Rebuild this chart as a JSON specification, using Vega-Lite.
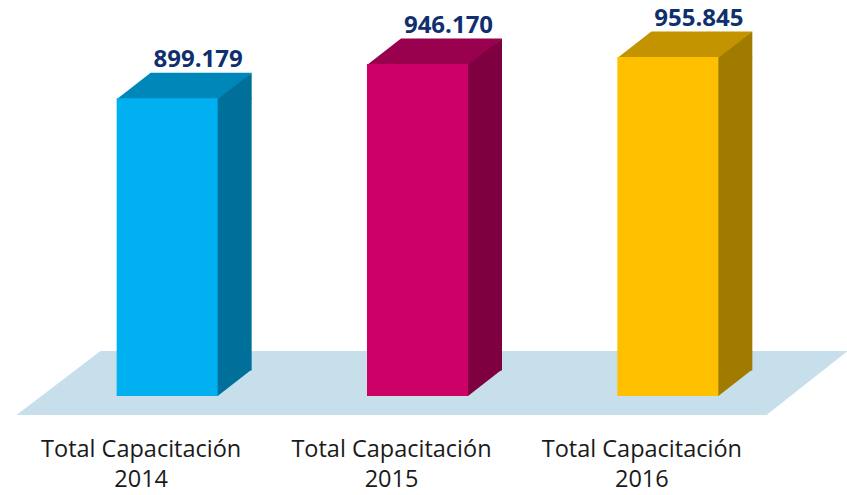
{
  "$schema": "https://vega.github.io/schema/vega-lite/v6.json",
  "width": 751,
  "height": 396,
  "autosize": {"type": "none"},
  "padding": {"left": 42, "top": 0, "right": 54, "bottom": 99},
  "background": "white",
  "config": {"view": {"stroke": null}},
  "data": {"values": [
    {"year": "2014", "value": 899179, "label": "899.179"},
    {"year": "2015", "value": 946170, "label": "946.170"},
    {"year": "2016", "value": 955845, "label": "955.845"}
  ]},
  "encoding": {
    "x": {
      "field": "year", "type": "nominal",
      "scale": {"domain": ["2014", "2015", "2016"], "paddingInner": 0, "paddingOuter": 0},
      "axis": {
        "title": null, "domain": false, "ticks": false, "labelAngle": 0,
        "labelExpr": "['Total Capacitación', datum.label]",
        "labelFont": "Open Sans", "labelFontSize": 23.5, "labelColor": "#1a1a1a",
        "labelLineHeight": 30, "labelBaseline": "alphabetic", "labelPadding": 60,
        "labelOffset": -26, "labelLimit": 0
      }
    },
    "y": {
      "field": "value", "type": "quantitative",
      "scale": {"domain": [490000, 1034171], "zero": false, "nice": false},
      "axis": null
    }
  },
  "layer": [
    {
      "transform": [{"filter": "datum.year == '2015'"}],
      "mark": {"type": "point", "filled": true, "opacity": 1, "size": 4, "strokeWidth": 0, "fill": "#c6dfea",
        "shape": "M-317,-45L430,-45L349,19L-401,19Z"},
      "encoding": {"y": {"datum": 490000, "type": "quantitative"}}
    },
    {
      "mark": {"type": "bar", "width": 38, "xOffset": 65.5, "y2Offset": -25.5},
      "encoding": {
        "y2": {"datum": 490000},
        "color": {"field": "year", "type": "nominal", "legend": null,
          "scale": {"domain": ["2014", "2015", "2016"], "range": ["#00709b", "#7f0040", "#a17a00"]}}
      }
    },
    {
      "mark": {"type": "point", "filled": true, "opacity": 1, "size": 4, "strokeWidth": 0,
        "shape": "M46,1L84.5,-25.5L84.5,1Z"},
      "encoding": {
        "color": {"field": "year", "type": "nominal", "legend": null,
          "scale": {"domain": ["2014", "2015", "2016"], "range": ["#00709b", "#7f0040", "#a17a00"]}}
      }
    },
    {
      "mark": {"type": "point", "filled": true, "opacity": 1, "size": 4, "strokeWidth": 0,
        "shape": "M46,-26.5L84.5,-26.5L50.5,0L46,0Z"},
      "encoding": {
        "y": {"datum": 490000, "type": "quantitative"},
        "color": {"field": "year", "type": "nominal", "legend": null,
          "scale": {"domain": ["2014", "2015", "2016"], "range": ["#00709b", "#7f0040", "#a17a00"]}}
      }
    },
    {
      "mark": {"type": "point", "filled": true, "opacity": 1, "size": 4, "strokeWidth": 0,
        "shape": "M-50.5,1L50.5,1L84.5,-25.5L-16.5,-25.5Z"},
      "encoding": {
        "color": {"field": "year", "type": "nominal", "legend": null,
          "scale": {"domain": ["2014", "2015", "2016"], "range": ["#0087b9", "#99004d", "#c49400"]}}
      }
    },
    {
      "mark": {"type": "bar", "width": 101},
      "encoding": {
        "y2": {"datum": 490000},
        "color": {"field": "year", "type": "nominal", "legend": null,
          "scale": {"domain": ["2014", "2015", "2016"], "range": ["#00b0f0", "#cc0066", "#ffc000"]}}
      }
    },
    {
      "mark": {"type": "text", "dx": 31, "dy": -31, "baseline": "alphabetic", "align": "center",
        "font": "Open Sans", "fontWeight": "bold", "fontSize": 24, "color": "#102f6e"},
      "encoding": {"text": {"field": "label"}}
    }
  ],
  "resolve": {"scale": {"color": "independent"}}
}
